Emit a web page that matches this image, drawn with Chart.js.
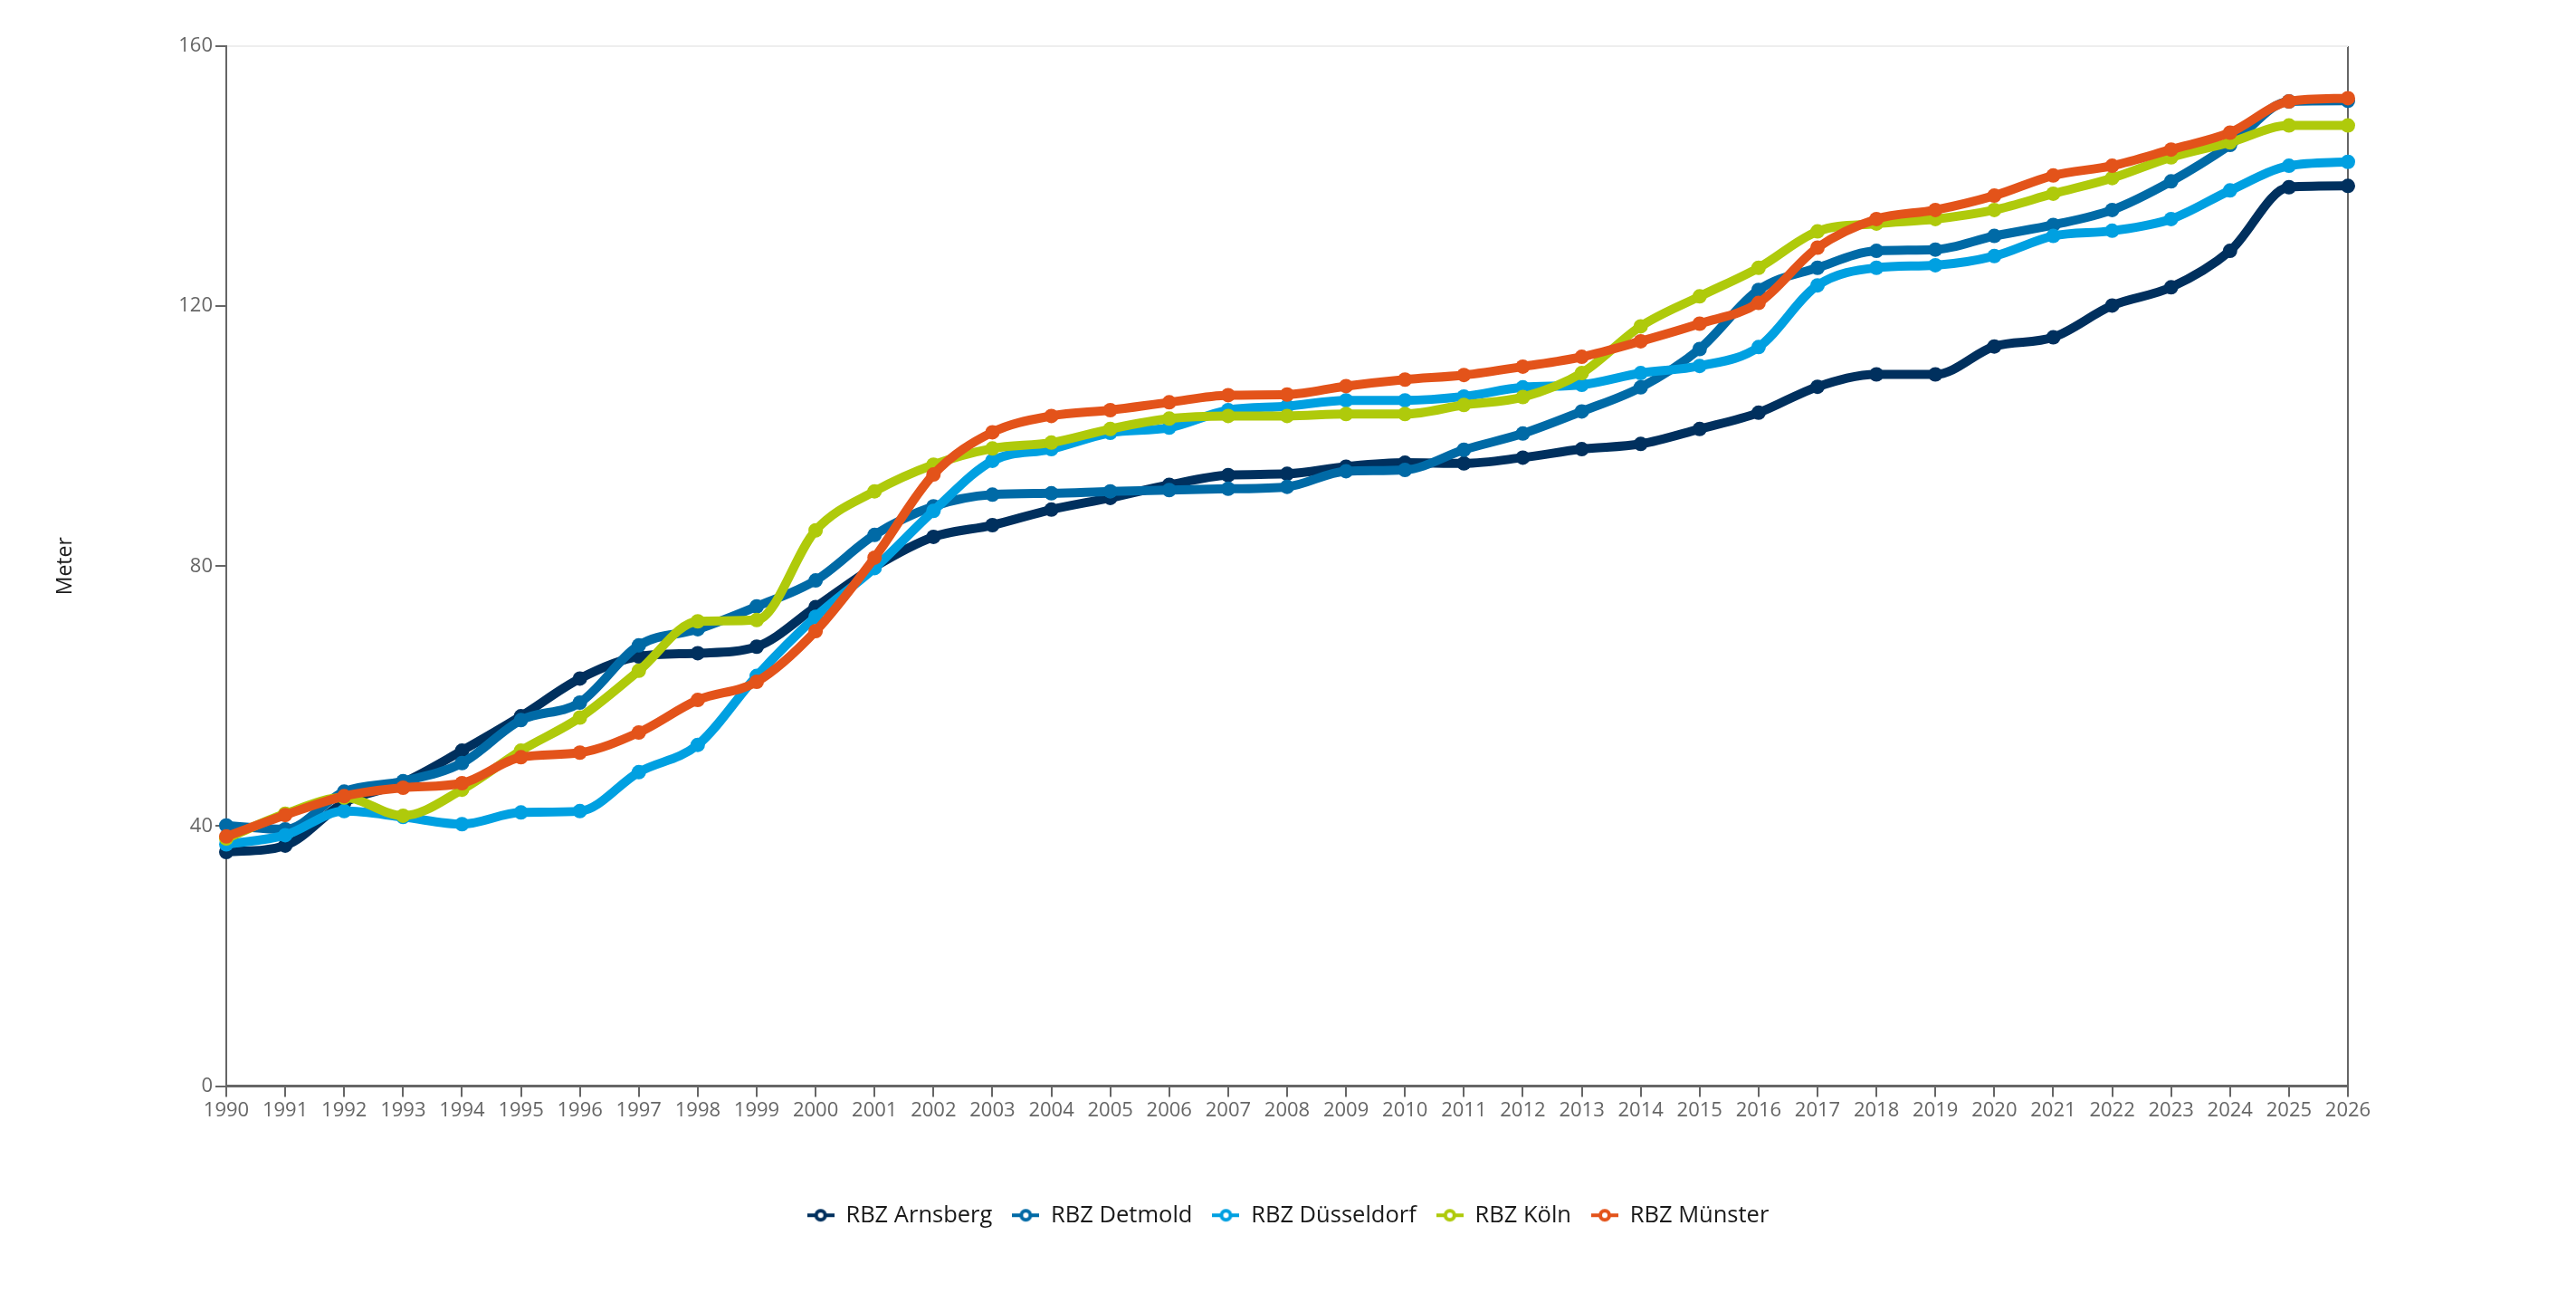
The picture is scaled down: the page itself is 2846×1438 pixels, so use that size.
<!DOCTYPE html>
<html lang="de">
<head>
<meta charset="utf-8">
<title>Meter</title>
<script src="https://cdn.jsdelivr.net/npm/chart.js@4.4.1/dist/chart.umd.min.js"></script>
<style>
  html, body { margin: 0; padding: 0; background: #fff; }
  #contenedor { width: 2846px; height: 1438px; }
</style>
</head>
<body>
<div id="contenedor"><canvas id="chartMeter"></canvas></div>
<script>
const jahre = [
  "1990", "1991", "1992", "1993", "1994", "1995", "1996", "1997", "1998", "1999",
  "2000", "2001", "2002", "2003", "2004", "2005", "2006", "2007", "2008", "2009",
  "2010", "2011", "2012", "2013", "2014", "2015", "2016", "2017", "2018", "2019",
  "2020", "2021", "2022", "2023", "2024", "2025", "2026"
];

const arnsberg = [
  36.0, 37.0, 43.6, 46.7, 51.6, 56.9, 62.7, 66.1, 66.6, 67.6,
  73.7, 79.9, 84.5, 86.3, 88.7, 90.5, 92.5, 94.0, 94.2, 95.3,
  95.9, 95.8, 96.7, 98.0, 98.8, 101.1, 103.6, 107.6, 109.5, 109.5,
  113.8, 115.2, 120.1, 122.9, 128.5, 138.3, 138.5
];
const detmold = [
  40.1, 39.5, 45.3, 46.9, 49.7, 56.3, 59.0, 67.8, 70.3, 73.8,
  77.8, 84.8, 89.2, 91.0, 91.2, 91.5, 91.7, 91.9, 92.2, 94.6,
  94.8, 97.9, 100.4, 103.8, 107.5, 113.4, 122.5, 125.9, 128.5, 128.7,
  130.8, 132.5, 134.8, 139.2, 144.8, 151.5, 151.6
];
const duesseldorf = [
  37.2, 38.6, 42.3, 41.4, 40.3, 42.1, 42.3, 48.3, 52.5, 63.1,
  72.2, 79.7, 88.5, 96.2, 98.0, 100.5, 101.3, 104.0, 104.6, 105.5,
  105.5, 106.1, 107.5, 107.9, 109.7, 110.8, 113.7, 123.2, 125.9, 126.3,
  127.7, 130.8, 131.6, 133.4, 137.8, 141.6, 142.2
];
const koeln = [
  38.1, 41.9, 44.4, 41.6, 45.6, 51.6, 56.7, 63.9, 71.5, 71.7,
  85.5, 91.5, 95.6, 98.1, 99.0, 101.1, 102.7, 103.1, 103.1, 103.4,
  103.4, 104.8, 106.0, 109.7, 116.9, 121.5, 125.9, 131.5, 132.7, 133.4,
  134.8, 137.3, 139.7, 142.9, 145.2, 147.8, 147.8
];
const muenster = [
  38.4, 41.7, 44.6, 45.9, 46.6, 50.6, 51.3, 54.4, 59.4, 62.2,
  70.0, 81.3, 94.1, 100.6, 103.1, 104.0, 105.2, 106.3, 106.4, 107.7,
  108.7, 109.4, 110.7, 112.2, 114.6, 117.3, 120.5, 129.0, 133.4, 134.8,
  137.0, 140.1, 141.6, 144.1, 146.7, 151.5, 152.0
];

const nombresSeries = ["RBZ Arnsberg", "RBZ Detmold", "RBZ Düsseldorf", "RBZ Köln", "RBZ Münster"];
const coloresSeries = ["#00305e", "#006aa6", "#00a0e1", "#afca0b", "#e3531a"];
const valoresSeries = [arnsberg, detmold, duesseldorf, koeln, muenster];
const ticksY = [0, 40, 80, 120, 160];

const GRIS = "#666666";
const FUENTE = "'Open Sans', 'Noto Sans', sans-serif";

// icono de leyenda: linea corta con circulo hueco
function iconoLeyenda(color) {
  const c = document.createElement("canvas");
  c.width = 30;
  c.height = 18;
  const ctx = c.getContext("2d");
  ctx.strokeStyle = color;
  ctx.lineWidth = 4;
  ctx.beginPath();
  ctx.moveTo(0, 9);
  ctx.lineTo(30, 9);
  ctx.stroke();
  ctx.fillStyle = "#ffffff";
  ctx.lineWidth = 4;
  ctx.beginPath();
  ctx.arc(15, 9, 5, 0, Math.PI * 2);
  ctx.fill();
  ctx.stroke();
  return c;
}

const datasets = nombresSeries.map((nombre, i) => ({
  label: nombre,
  data: valoresSeries[i],
  borderColor: coloresSeries[i],
  backgroundColor: coloresSeries[i],
  borderWidth: 10,
  pointRadius: 8,
  pointBorderWidth: 0,
  pointBackgroundColor: coloresSeries[i],
  cubicInterpolationMode: "monotone",
  fill: false,
  order: nombresSeries.length - i
}));

new Chart(document.getElementById("chartMeter"), {
  type: "line",
  data: { labels: jahre, datasets },
  options: {
    responsive: true,
    maintainAspectRatio: false,
    animation: false,
    layout: { padding: { top: 51, right: 0, bottom: 73, left: 0 } },
    plugins: {
      tooltip: { enabled: false },
      legend: {
        position: "bottom",
        title: {
          display: true,
          text: " ",
          color: "rgba(0,0,0,0)",
          font: { family: FUENTE, size: 23 },
          padding: { top: 18, bottom: 20 }
        },
        labels: {
          usePointStyle: true,
          pointStyleWidth: 30,
          padding: 22,
          color: "#1a1a1a",
          font: { family: FUENTE, size: 25.5 },
          sort: (a, b) => a.datasetIndex - b.datasetIndex,
          generateLabels: (chart) => {
            const items = Chart.defaults.plugins.legend.labels.generateLabels(chart);
            items.forEach((item) => {
              item.pointStyle = iconoLeyenda(coloresSeries[item.datasetIndex]);
            });
            return items;
          }
        }
      }
    },
    scales: {
      x: {
        offset: false,
        border: { display: true, color: GRIS, width: 3 },
        grid: {
          drawOnChartArea: true,
          color: (ctx) => (ctx.index === jahre.length - 1 ? GRIS : "rgba(0,0,0,0)"),
          lineWidth: 2,
          tickColor: GRIS,
          tickLength: 12
        },
        ticks: {
          autoSkip: false,
          maxRotation: 0,
          padding: 2,
          color: GRIS,
          font: { family: FUENTE, size: 22 }
        }
      },
      y: {
        min: ticksY[0],
        max: ticksY[ticksY.length - 1],
        afterBuildTicks: (scale) => {
          scale.ticks = ticksY.map((v) => ({ value: v }));
        },
        afterFit: (scale) => {
          scale.width = 250;
        },
        border: { display: true, color: GRIS, width: 2 },
        grid: {
          color: (ctx) => (ctx.tick && ctx.tick.value === 160 ? "#eeeeee" : "rgba(0,0,0,0)"),
          lineWidth: 2,
          tickColor: GRIS,
          tickLength: 12
        },
        ticks: {
          padding: 3,
          color: GRIS,
          font: { family: FUENTE, size: 22 }
        },
        title: {
          display: true,
          text: "Meter",
          color: "#1a1a1a",
          padding: { top: 59, bottom: 0 },
          font: { family: FUENTE, size: 23 }
        }
      },
      // eje vacio a la derecha: reserva el margen derecho sin desplazar la leyenda
      yDerecha: {
        position: "right",
        min: ticksY[0],
        max: ticksY[ticksY.length - 1],
        grid: { display: false },
        border: { display: false },
        ticks: { display: false },
        afterFit: (scale) => {
          scale.width = 252;
        }
      }
    }
  }
});
</script>
</body>
</html>
